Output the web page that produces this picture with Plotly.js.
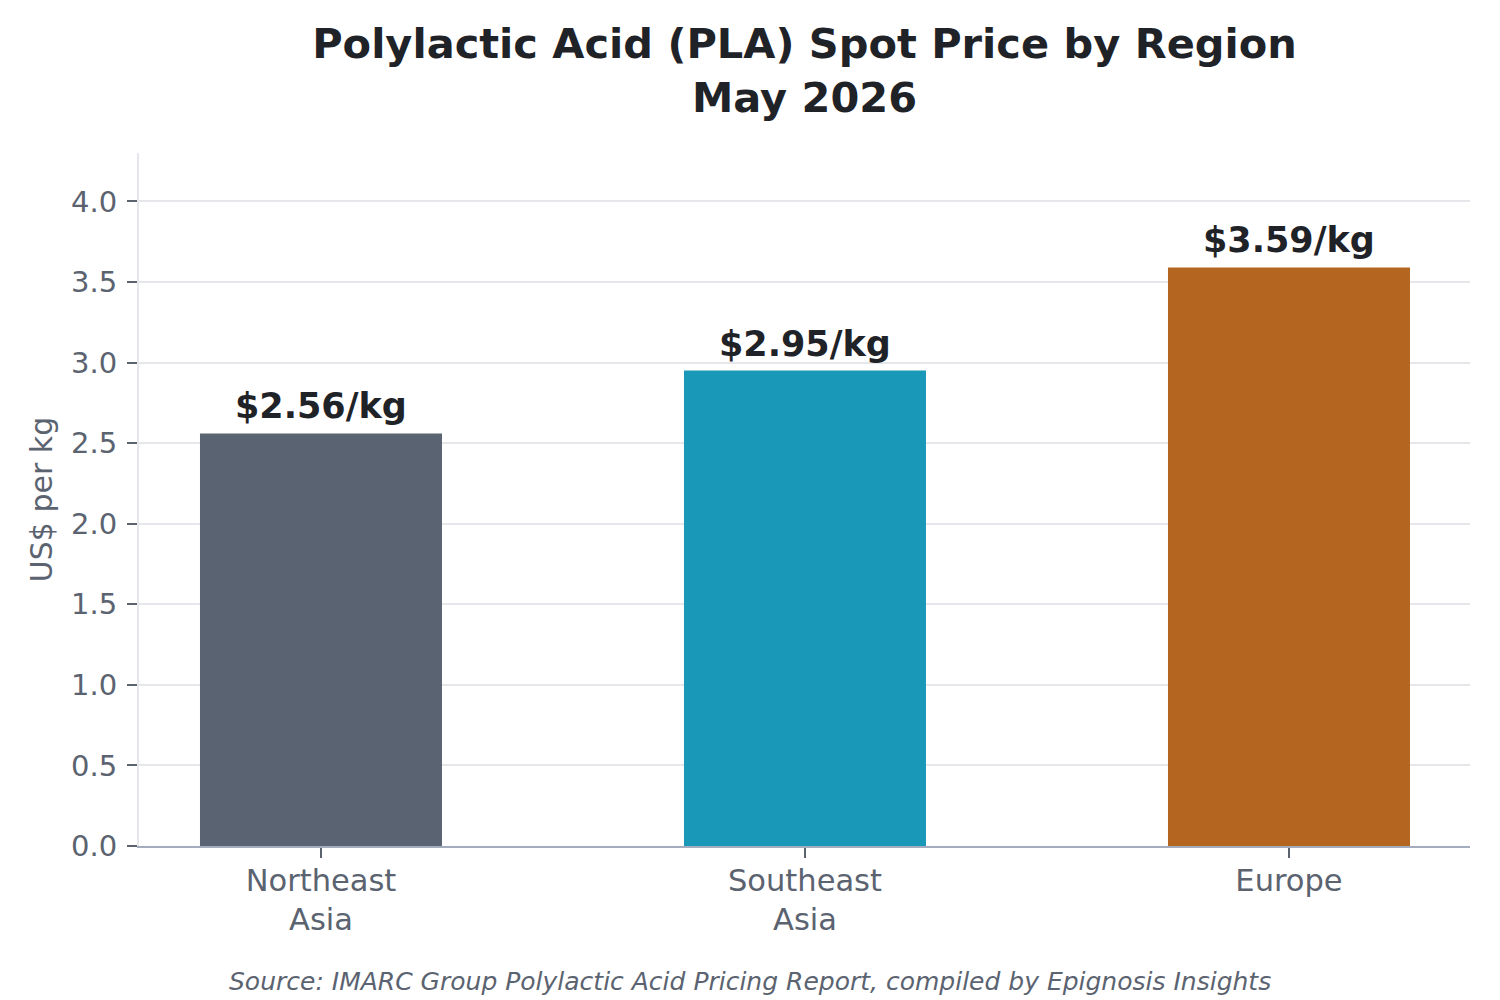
<!DOCTYPE html>
<html>
<head>
<meta charset="utf-8">
<script src="https://cdn.plot.ly/plotly-3.0.1.min.js"></script>
<style>
  html, body { margin: 0; padding: 0; background: #ffffff; }
  #grafico { width: 1500px; height: 1000px; }
</style>
</head>
<body>
<div id="grafico"></div>
<script>
// datos del grafico
const regiones = ["Northeast<br>Asia", "Southeast<br>Asia", "Europe"];
const precios = [2.56, 2.95, 3.59];
const etiquetas = ["$2.56/kg", "$2.95/kg", "$3.59/kg"];
const coloresBarras = ["#5a6371", "#1a98b8", "#b4651f"];
const ticksY = [0, 0.5, 1.0, 1.5, 2.0, 2.5, 3.0, 3.5, 4.0];

const gris = "#5b6370";
const oscuro = "#1f2328";

// etiquetas de valor encima de cada barra
const notasBarras = regiones.map(function (r, i) {
  return {
    x: r,
    y: precios[i],
    text: etiquetas[i],
    xref: "x",
    yref: "y",
    xanchor: "center",
    yanchor: "bottom",
    yshift: 5,
    showarrow: false,
    font: { family: "DejaVu Sans", size: 35, color: oscuro, weight: "bold" }
  };
});

Plotly.newPlot(
  "grafico",
  [{
    x: regiones,
    y: precios,
    type: "bar",
    width: 0.5,
    marker: { color: coloresBarras, line: { width: 0 } },
    hoverinfo: "skip"
  }],
  {
    width: 1500,
    height: 1000,
    paper_bgcolor: "#ffffff",
    plot_bgcolor: "#ffffff",
    font: { family: "DejaVu Sans", color: gris },
    margin: { l: 139, r: 30, t: 153, b: 154 },
    showlegend: false,
    title: {
      text: "Polylactic Acid (PLA) Spot Price by Region<br>May 2026",
      font: { family: "DejaVu Sans", size: 41.5, color: oscuro, weight: "bold" },
      xref: "paper",
      x: 0.5,
      xanchor: "center",
      yref: "container",
      y: 0.942,
      yanchor: "top"
    },
    xaxis: {
      type: "category",
      range: [-0.376, 2.374],
      showgrid: false,
      zeroline: false,
      showline: true,
      linecolor: "#a3adbd",
      linewidth: 2,
      ticks: "outside",
      ticklen: 10,
      tickwidth: 2,
      tickcolor: gris,
      ticklabelstandoff: -4,
      tickfont: { family: "DejaVu Sans", size: 30.5, color: gris }
    },
    yaxis: {
      range: [0, 4.3],
      tickvals: ticksY,
      tickformat: ".1f",
      showgrid: true,
      gridcolor: "#e5e7eb",
      gridwidth: 1.5,
      zeroline: false,
      showline: true,
      linecolor: "#e5e7eb",
      linewidth: 2,
      ticks: "outside",
      ticklen: 10,
      tickwidth: 2,
      tickcolor: gris,
      ticklabelstandoff: 4,
      tickfont: { family: "DejaVu Sans", size: 29, color: gris },
      title: {
        text: "US$ per kg",
        font: { family: "DejaVu Sans", size: 30, color: gris },
        standoff: 10
      }
    },
    annotations: notasBarras.concat([{
      text: "<i>Source: IMARC Group Polylactic Acid Pricing Report, compiled by Epignosis Insights</i>",
      xref: "paper",
      yref: "paper",
      x: 0.4587,
      y: -0.195,
      xanchor: "center",
      yanchor: "middle",
      showarrow: false,
      font: { family: "DejaVu Sans", size: 25, color: gris }
    }])
  },
  { displayModeBar: false, responsive: false }
);
</script>
</body>
</html>
